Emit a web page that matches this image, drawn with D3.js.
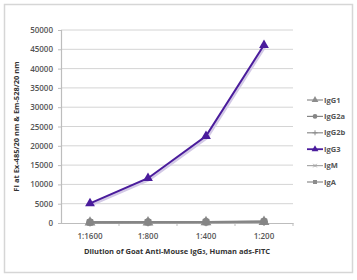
<!DOCTYPE html>
<html><head>
<script src="https://d3js.org/d3.v7.min.js"></script>
<style>
  body { margin: 0; background: #fff; }
  text { font-family: "Open Sans", sans-serif; }
</style>
</head>
<body>
<svg id="chart" width="357" height="280"></svg>
<script>
  // Data
  const dilutions = ["1:1600", "1:800", "1:400", "1:200"];
  const seriesNames = ["IgG1", "IgG2a", "IgG2b", "IgG3", "IgM", "IgA"];
  const igG1 = [150, 180, 220, 300];
  const igG2a = [200, 230, 280, 400];
  const igG2b = [120, 150, 200, 280];
  const igG3 = [5100, 11600, 22500, 46100];
  const igM = [100, 130, 170, 250];
  const igA = [180, 210, 260, 350];
  const yTicks = [0, 5000, 10000, 15000, 20000, 25000, 30000, 35000, 40000, 45000, 50000];

  const seriesValues = [igG1, igG2a, igG2b, igG3, igM, igA];
  const seriesColor = ["#8c8c8c", "#858585", "#8c8c8c", "#4a1c9c", "#a8a8a8", "#8c8c8c"];
  const seriesMarker = ["triangle", "circle", "cross", "triangle", "star", "square"];

  const svg = d3.select("#chart");
  const margin = { top: 30, left: 61, right: 64, bottom: 57 };
  const width = 357, height = 280;
  const chartWidth = width - margin.left - margin.right;
  const chartHeight = height - margin.top - margin.bottom;

  // outer frame
  svg.append("rect").attr("x", 4.5).attr("y", 4.5).attr("width", 348).attr("height", 268)
     .attr("fill", "#fff").attr("stroke", "#d6d6d6").attr("stroke-width", 1.5);

  const g = svg.append("g").attr("transform", "translate(" + margin.left + "," + margin.top + ")");

  const xBand = d3.scaleBand().domain(dilutions).range([0, chartWidth]);
  const xScale = d => xBand(d) + xBand.bandwidth() / 2;
  const yScale = d3.scaleLinear().domain([0, 50000]).range([chartHeight, 0]);

  // gridlines
  g.selectAll(".grid").data(yTicks.slice(1)).join("line")
   .attr("x1", 0).attr("x2", chartWidth)
   .attr("y1", d => yScale(d)).attr("y2", d => yScale(d))
   .attr("stroke", "#d4d4d4").attr("stroke-width", 1);

  // y axis
  const yAxis = d3.axisLeft(yScale).tickValues(yTicks).tickFormat(d3.format("d")).tickSize(3).tickPadding(5);
  const yA = g.append("g").call(yAxis);
  yA.select(".domain").attr("stroke", "#bdbdbd").attr("stroke-width", 1.2);
  yA.selectAll(".tick line").attr("stroke", "#bdbdbd");
  yA.selectAll("text").attr("font-size", 8).attr("fill", "#555").attr("font-weight", 600);

  // x axis
  const xAxis = d3.axisBottom(xBand).tickSize(0).tickPadding(10);
  const xA = g.append("g").attr("transform", "translate(0," + chartHeight + ")").call(xAxis);
  xA.select(".domain").attr("stroke", "#bdbdbd").attr("stroke-width", 1.2);
  xA.selectAll("text").attr("font-size", 8).attr("fill", "#555").attr("font-weight", 600);
  // tick marks at category boundaries
  g.selectAll(".xtick").data(dilutions.slice(1).concat(["end"])).join("line")
   .attr("x1", (d, i) => xBand.bandwidth() * (i + 1)).attr("x2", (d, i) => xBand.bandwidth() * (i + 1))
   .attr("y1", chartHeight).attr("y2", chartHeight + 3)
   .attr("stroke", "#bdbdbd");

  // markers
  function drawMarker(sel, type, color, size) {
    if (type === "circle") {
      sel.append("circle").attr("r", size * 0.95).attr("fill", color);
    } else if (type === "triangle") {
      sel.append("path").attr("d", d3.symbol().type(d3.symbolTriangle).size(size * size * 3.2)).attr("fill", color);
    } else if (type === "square") {
      sel.append("rect").attr("x", -size * 0.8).attr("y", -size * 0.8).attr("width", size * 1.6).attr("height", size * 1.6).attr("fill", color);
    } else if (type === "cross") {
      sel.append("path").attr("d", "M" + (-size) + ",0H" + size + "M0," + (-size) + "V" + size).attr("stroke", color).attr("stroke-width", 1);
    } else if (type === "star") {
      sel.append("path").attr("d", "M" + (-size) + ",0H" + size + "M" + (-size * 0.7) + "," + (-size * 0.7) + "L" + (size * 0.7) + "," + (size * 0.7) + "M" + (-size * 0.7) + "," + (size * 0.7) + "L" + (size * 0.7) + "," + (-size * 0.7)).attr("stroke", color).attr("stroke-width", 1);
    }
  }

  const line = d3.line().x((d, i) => xScale(dilutions[i])).y(d => yScale(d));

  // draw gray series first (IgG2a on top of the grays), IgG3 last
  const order = [0, 2, 4, 5, 1, 3];
  order.forEach(si => {
    const vals = seriesValues[si];
    if (si === 3) {
      g.append("path").datum(vals).attr("d", line).attr("fill", "none")
       .attr("stroke", "#d3c9e6").attr("stroke-width", 3).attr("transform", "translate(1,1.5)");
    }
    g.append("path").datum(vals).attr("d", line).attr("fill", "none")
     .attr("stroke", seriesColor[si]).attr("stroke-width", 2);
    vals.forEach((v, i) => {
      const m = g.append("g").attr("transform", "translate(" + xScale(dilutions[i]) + "," + yScale(v) + ")");
      drawMarker(m, seriesMarker[si], seriesColor[si], si === 3 ? 3.6 : 4);
    });
  });

  // axis titles
  svg.append("text").attr("transform", "translate(19," + (margin.top + chartHeight / 2) + ") rotate(-90)")
     .attr("text-anchor", "middle").attr("font-size", 7.5).attr("font-weight", 700).attr("fill", "#333")
     .text("FI at Ex-485/20 nm & Em-528/20 nm");
  const xt = svg.append("text").attr("x", margin.left + chartWidth / 2).attr("y", 254)
     .attr("text-anchor", "middle").attr("font-size", 7.5).attr("font-weight", 700).attr("fill", "#333");
  xt.append("tspan").text("Dilution of Goat Anti-Mouse IgG");
  xt.append("tspan").attr("font-size", 5.5).text("3");
  xt.append("tspan").text(", Human ads-FITC");

  // legend
  const legend = svg.append("g").attr("transform", "translate(307,100)");
  seriesNames.forEach((name, i) => {
    const row = legend.append("g").attr("transform", "translate(0," + (i * 16.4) + ")");
    row.append("line").attr("x1", 0).attr("x2", 16).attr("y1", 0).attr("y2", 0)
       .attr("stroke", seriesColor[i]).attr("stroke-width", i === 3 ? 1.8 : 1.2);
    const m = row.append("g").attr("transform", "translate(8,0)");
    drawMarker(m, seriesMarker[i], seriesColor[i], 2.5);
    row.append("text").attr("x", 17).attr("y", 2.6).attr("font-size", 7.5).attr("font-weight", 700)
       .attr("fill", "#555").text(name);
  });
</script>
</body>
</html>
